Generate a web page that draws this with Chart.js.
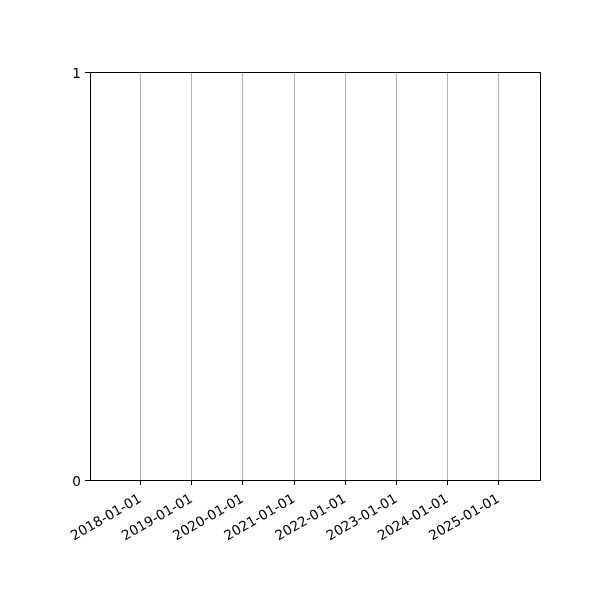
<!DOCTYPE html>
<html>
<head>
<meta charset="utf-8">
<script src="https://cdn.jsdelivr.net/npm/chart.js@4/dist/chart.umd.min.js"></script>
<style>
  html, body { margin: 0; padding: 0; background: #fff; }
  #wrap { width: 600px; height: 600px; }
</style>
</head>
<body>
<div id="wrap"><canvas id="chart" width="600" height="600"></canvas></div>
<script>
// data (the plot has no points, only the date axis)
const tickDates = ["2018-01-01", "2019-01-01", "2020-01-01", "2021-01-01",
                   "2022-01-01", "2023-01-01", "2024-01-01", "2025-01-01"];
const xRange = ["2017-01-05", "2025-10-22"];
const yTicks = [0, 1];
const seriesPoints = [];

const DAY = 86400000;
const toDays = s => Date.parse(s + "T00:00:00Z") / DAY;
const fromDays = d => new Date(d * DAY).toISOString().slice(0, 10);

// draw the top/right spines
const framePlugin = {
  id: "frame",
  afterDraw(chart) {
    const { ctx, chartArea: a } = chart;
    ctx.save();
    ctx.strokeStyle = "#000";
    ctx.lineWidth = 1;
    ctx.strokeRect(a.left + 0.5, a.top + 0.5, a.right - a.left, a.bottom - a.top);
    ctx.restore();
  }
};

const font = { family: "DejaVu Sans", size: 13.6 };

new Chart(document.getElementById("chart"), {
  type: "scatter",
  data: {
    datasets: [{
      data: seriesPoints,
      backgroundColor: "#1f77b4"
    }]
  },
  options: {
    responsive: false,
    animation: false,
    layout: { padding: { top: 72, right: 60, left: 0, bottom: 0 } },
    plugins: {
      legend: { display: false },
      tooltip: { enabled: false }
    },
    scales: {
      x: {
        type: "linear",
        min: toDays(xRange[0]),
        max: toDays(xRange[1]),
        afterBuildTicks: scale => {
          scale.ticks = tickDates.map(d => ({ value: toDays(d) }));
        },
        afterFit: scale => { scale.height = 120; },
        ticks: {
          color: "#000",
          font,
          minRotation: 30,
          maxRotation: 30,
          autoSkip: false,
          padding: 6,
          callback: v => fromDays(v)
        },
        grid: {
          color: "#b0b0b0",
          lineWidth: 1,
          tickColor: "#000",
          tickLength: 5
        },
        border: { color: "#000", width: 1 }
      },
      y: {
        min: 0,
        max: 1,
        afterBuildTicks: scale => {
          scale.ticks = yTicks.map(v => ({ value: v }));
        },
        afterFit: scale => { scale.width = 90; },
        ticks: {
          color: "#000",
          font,
          padding: 4,
          labelOffset: 2,
          callback: v => String(v)
        },
        grid: {
          drawOnChartArea: false,
          tickColor: "#000",
          tickLength: 5
        },
        border: { color: "#000", width: 1 }
      }
    }
  },
  plugins: [framePlugin]
});
</script>
</body>
</html>
